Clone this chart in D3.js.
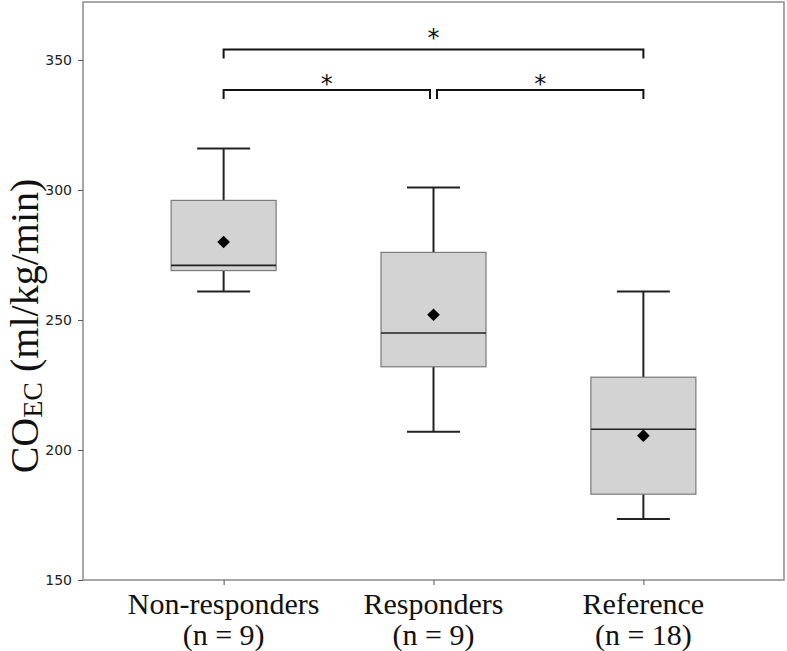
<!DOCTYPE html>
<html>
<head>
<meta charset="utf-8">
<script src="https://cdn.jsdelivr.net/npm/d3@7"></script>
<style>
  body { margin: 0; background: #fff; }
  .tick text { font-family: "DejaVu Sans", Verdana, sans-serif; }
</style>
</head>
<body>
<div id="chart"></div>
<script>
// Data
const groups = ["Non-responders", "Responders", "Reference"];
const groupN = ["(n = 9)", "(n = 9)", "(n = 18)"];
const whiskerMin = [261, 207, 173.5];
const q1 = [269, 232, 183];
const median = [271, 245, 208];
const q3 = [296, 276, 228];
const whiskerMax = [316, 301, 261];
const means = [280, 252, 205.5];
const yTicks = [150, 200, 250, 300, 350];

// Significance brackets: [from group, to group, height in data units, label]
const brackets = [
    [0, 2, 354, "*"],
    [0, 1, 338.5, "*"],
    [1, 2, 338.5, "*"]
];

const width = 787, height = 651;
const plot = { left: 83, right: 784, top: 2, bottom: 580 };

const svg = d3.select("#chart")
    .append("svg")
    .attr("width", width)
    .attr("height", height);

const x = d3.scalePoint()
    .domain(groups)
    .range([plot.left, plot.right])
    .padding(0.67);

const y = d3.scaleLinear()
    .domain([150, 372.3])
    .range([plot.bottom, plot.top]);

// Frame
svg.append("rect")
    .attr("x", plot.left)
    .attr("y", plot.top)
    .attr("width", plot.right - plot.left)
    .attr("height", plot.bottom - plot.top)
    .attr("fill", "none")
    .attr("stroke", "#8a8a8a")
    .attr("stroke-width", 1.5);

// Y axis
const yAxis = svg.append("g")
    .attr("transform", "translate(" + plot.left + ",0)")
    .call(d3.axisLeft(y).tickValues(yTicks).tickSize(5).tickPadding(6));
yAxis.select(".domain").remove();
yAxis.selectAll(".tick line").attr("stroke", "#555");
yAxis.selectAll(".tick text")
    .attr("font-size", 14)
    .attr("fill", "#222");

// X axis (ticks only, labels drawn below)
const xAxis = svg.append("g")
    .attr("transform", "translate(0," + plot.bottom + ")")
    .call(d3.axisBottom(x).tickSize(5).tickFormat(""));
xAxis.select(".domain").remove();
xAxis.selectAll(".tick line").attr("stroke", "#555");

const serif = "'Liberation Serif', 'Times New Roman', Times, serif";

svg.append("g").selectAll("text")
    .data(groups)
    .enter()
    .append("text")
    .attr("x", d => x(d))
    .attr("y", 614)
    .attr("text-anchor", "middle")
    .attr("font-family", serif)
    .attr("font-size", 30)
    .attr("fill", "#111")
    .text(d => d);

svg.append("g").selectAll("text")
    .data(groups)
    .enter()
    .append("text")
    .attr("x", d => x(d))
    .attr("y", 645)
    .attr("text-anchor", "middle")
    .attr("font-family", serif)
    .attr("font-size", 30)
    .attr("fill", "#111")
    .text((d, i) => groupN[i]);

// Y axis title
const yTitle = svg.append("text")
    .attr("transform", "translate(38,326) rotate(-90)")
    .attr("text-anchor", "middle")
    .attr("font-family", serif)
    .attr("font-size", 40)
    .attr("fill", "#111");
yTitle.append("tspan").text("CO");
yTitle.append("tspan").attr("font-size", 28).attr("dy", 4).text("EC");
yTitle.append("tspan").attr("dy", -4).text(" (ml/kg/min)");

// Boxes
const boxW = 105, capW = 53;
const boxes = svg.append("g").selectAll("g")
    .data(groups)
    .enter()
    .append("g");

boxes.append("line")
    .attr("x1", d => x(d)).attr("x2", d => x(d))
    .attr("y1", (d, i) => y(whiskerMin[i]))
    .attr("y2", (d, i) => y(whiskerMax[i]))
    .attr("stroke", "#222").attr("stroke-width", 2);

boxes.append("line")
    .attr("x1", d => x(d) - capW / 2).attr("x2", d => x(d) + capW / 2)
    .attr("y1", (d, i) => y(whiskerMax[i])).attr("y2", (d, i) => y(whiskerMax[i]))
    .attr("stroke", "#222").attr("stroke-width", 2);

boxes.append("line")
    .attr("x1", d => x(d) - capW / 2).attr("x2", d => x(d) + capW / 2)
    .attr("y1", (d, i) => y(whiskerMin[i])).attr("y2", (d, i) => y(whiskerMin[i]))
    .attr("stroke", "#222").attr("stroke-width", 2);

boxes.append("rect")
    .attr("x", d => x(d) - boxW / 2)
    .attr("y", (d, i) => y(q3[i]))
    .attr("width", boxW)
    .attr("height", (d, i) => y(q1[i]) - y(q3[i]))
    .attr("fill", "#d3d3d3")
    .attr("stroke", "#7a7a7a")
    .attr("stroke-width", 1.2);

boxes.append("line")
    .attr("x1", d => x(d) - boxW / 2).attr("x2", d => x(d) + boxW / 2)
    .attr("y1", (d, i) => y(median[i])).attr("y2", (d, i) => y(median[i]))
    .attr("stroke", "#222").attr("stroke-width", 1.6);

boxes.append("path")
    .attr("d", d3.symbol().type(d3.symbolSquare).size(80))
    .attr("transform", (d, i) => "translate(" + x(d) + "," + y(means[i]) + ") rotate(45)")
    .attr("fill", "#000");

// Significance brackets
const legH = 9, gap = 3.5;
const br = svg.append("g").selectAll("g")
    .data(brackets)
    .enter()
    .append("g");

const x1Of = b => x(groups[b[0]]) + (b[1] - b[0] === 1 && b[0] > 0 ? gap : 0);
const x2Of = b => x(groups[b[1]]) - (b[1] - b[0] === 1 && b[1] < groups.length - 1 ? gap : 0);

br.append("path")
    .attr("d", b => {
        const yy = y(b[2]);
        return "M" + x1Of(b) + "," + (yy + legH) + "V" + yy + "H" + x2Of(b) + "V" + (yy + legH);
    })
    .attr("fill", "none")
    .attr("stroke", "#111")
    .attr("stroke-width", 2);

br.append("text")
    .attr("x", b => (x1Of(b) + x2Of(b)) / 2)
    .attr("y", b => y(b[2]) + (b[1] - b[0] === 2 ? -4 : 2))
    .attr("text-anchor", "middle")
    .attr("font-family", "'DejaVu Sans', sans-serif")
    .attr("font-size", 24)
    .attr("fill", "#111")
    .text(b => b[3]);
</script>
</body>
</html>
